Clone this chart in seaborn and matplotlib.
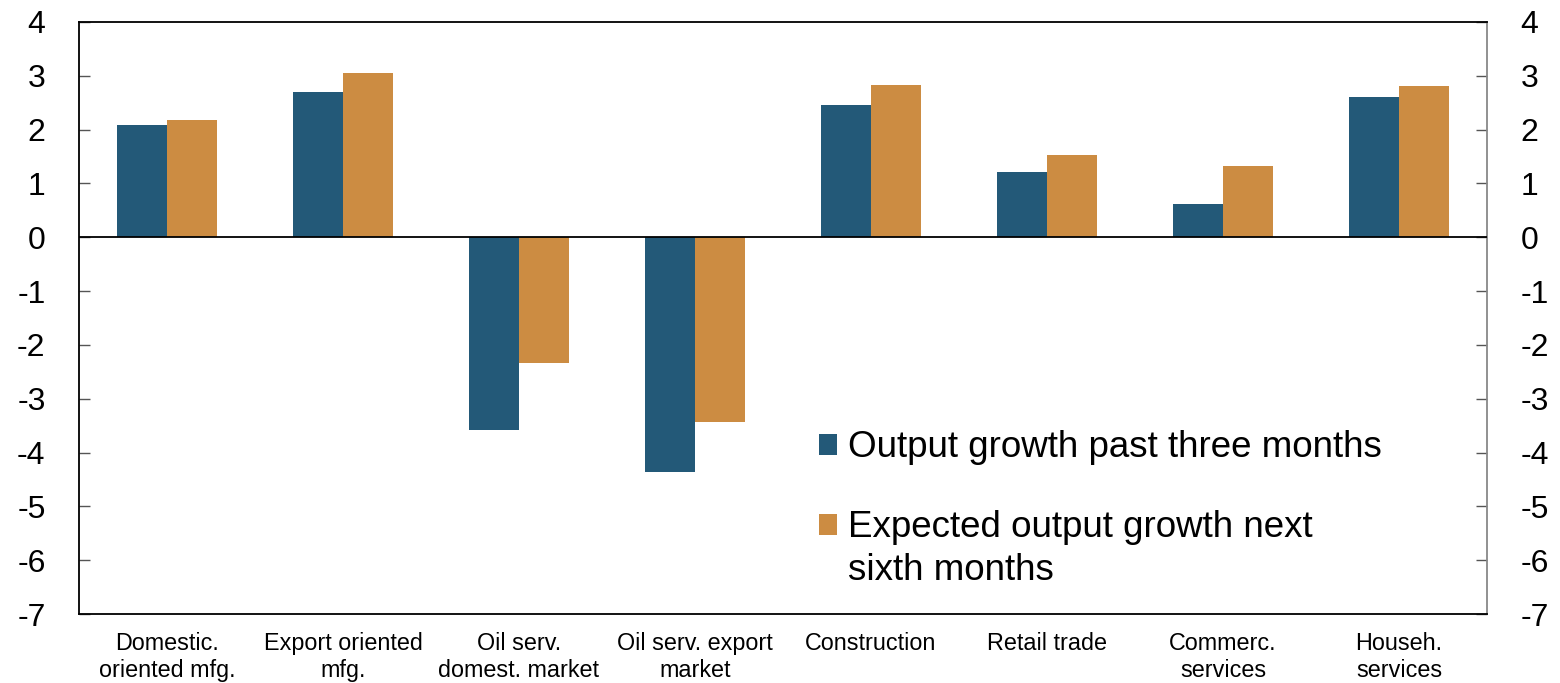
import matplotlib
matplotlib.use("Agg")
import matplotlib.pyplot as plt
import seaborn as sns
import pandas as pd

# data
sectors = ["Domestic.\noriented mfg.", "Export oriented\nmfg.", "Oil serv.\ndomest. market",
           "Oil serv. export\nmarket", "Construction", "Retail trade",
           "Commerc.\nservices", "Househ.\nservices"]
past_three = [2.08, 2.70, -3.59, -4.37, 2.45, 1.21, 0.62, 2.61]
next_six = [2.17, 3.05, -2.33, -3.44, 2.83, 1.52, 1.33, 2.80]
series_names = ["Output growth past three months", "Expected output growth next"]
series_cont = "sixth months"
colors = ["#235978", "#CC8C42"]

df = pd.DataFrame({
    "sector": sectors * 2,
    "value": past_three + next_six,
    "series": [series_names[0]] * len(sectors) + [series_names[1]] * len(sectors),
})

sns.set_style("white")
plt.rcParams["font.family"] = ["Liberation Sans", "DejaVu Sans"]
plt.rcParams["axes.unicode_minus"] = False
plt.rcParams["text.color"] = "black"

fig = plt.figure(figsize=(15.6, 6.83), dpi=100)
ax = fig.add_axes([0.0506, 0.101, 0.9026, 0.867])

sns.barplot(data=df, x="sector", y="value", hue="series", palette=colors,
            width=0.57, linewidth=0, saturation=1, ax=ax)

ax.set_ylim(-7, 4)
ax.set_yticks(range(-7, 5))
ax.set_xlim(-0.5, len(sectors) - 0.5)
ax.axhline(0, color="black", lw=1.3, zorder=3)

ax.set_xlabel("")
ax.set_ylabel("")
ax.tick_params(axis="y", which="both", direction="in", length=8, width=1,
               left=True, right=True, labelleft=True, labelright=True,
               labelsize=23, pad=24, color="#555555", labelcolor="black")
ax.tick_params(axis="x", length=0, labelsize=16.8, pad=13, labelcolor="black")

for side in ["left", "top", "bottom"]:
    ax.spines[side].set_color("black")
    ax.spines[side].set_linewidth(1.3)
ax.spines["right"].set_color("#888888")
ax.spines["right"].set_linewidth(1.3)

handles, labels = ax.get_legend_handles_labels()
leg = ax.legend(handles, labels, loc="upper left", bbox_to_anchor=(0.5256, 0.31),
                frameon=False, fontsize=26.5, handlelength=0.5, handleheight=0.5,
                handletextpad=0.3, labelspacing=1.22, borderaxespad=0, borderpad=0)
for t in leg.get_texts():
    t.set_color("black")

# second line of the second legend label, placed under its first line
fig.canvas.draw()
bb = leg.get_texts()[1].get_window_extent()
fig.text(bb.x0 / fig.bbox.width, (bb.y0 - 43) / fig.bbox.height, series_cont,
         fontsize=26.5, color="black", ha="left", va="bottom")

fig.savefig("out.png", dpi=100)
